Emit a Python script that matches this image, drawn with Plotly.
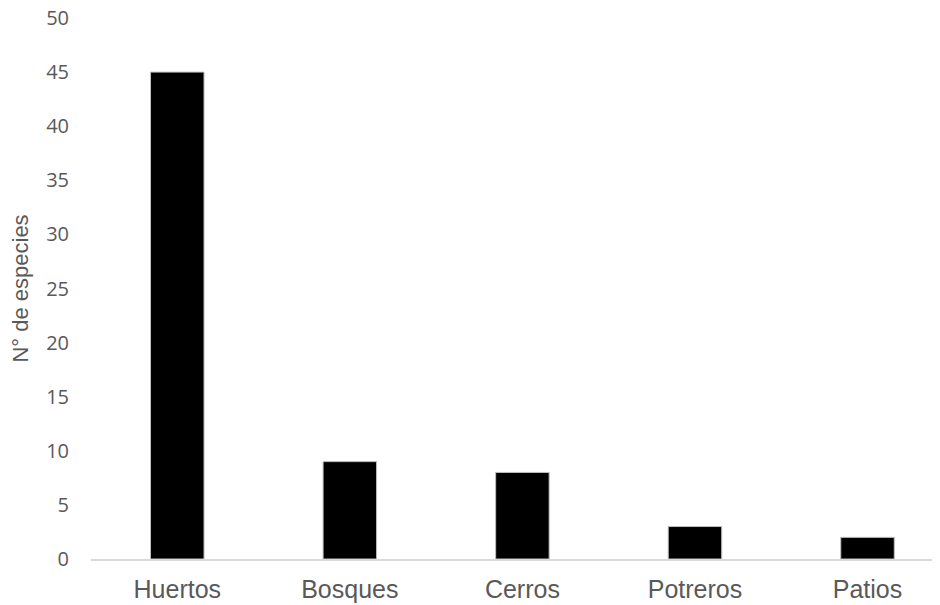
import plotly.graph_objects as go

categories = ["Huertos", "Bosques", "Cerros", "Potreros", "Patios"]
species = [45, 9, 8, 3, 2]
y_ticks = [0, 5, 10, 15, 20, 25, 30, 35, 40, 45, 50]

font_family = "Liberation Sans, Arial, sans-serif"
grey = "#595959"

fig = go.Figure(
    go.Bar(
        x=categories,
        y=species,
        width=0.31,
        marker=dict(color="#000000", line=dict(color="#bfbfbf", width=1)),
    )
)

# the page body adds an 8px offset, so the figure is sized to fit the window
fig.update_layout(
    width=932,
    height=597,
    margin=dict(l=83, r=0, t=10, b=46),
    paper_bgcolor="white",
    plot_bgcolor="white",
    showlegend=False,
    font=dict(family=font_family, size=20, color=grey),
)

fig.update_xaxes(
    range=[-0.5, 4.42],
    automargin=False,
    showline=True,
    linecolor="#d9d9d9",
    linewidth=2,
    showgrid=False,
    ticks="",
    ticklabelstandoff=7,
    tickfont=dict(size=25, color=grey, family=font_family),
)

fig.update_yaxes(
    range=[0, 50],
    automargin=False,
    tickvals=y_ticks,
    showline=False,
    showgrid=False,
    zeroline=False,
    ticks="",
    ticklabelstandoff=21,
    ticklabeloverflow="allow",
    tickfont=dict(size=20, color=grey, family="Open Sans, sans-serif"),
    title=dict(text="N° de especies", font=dict(size=22, color=grey, family=font_family), standoff=13),
)

fig.write_html("out.html")
